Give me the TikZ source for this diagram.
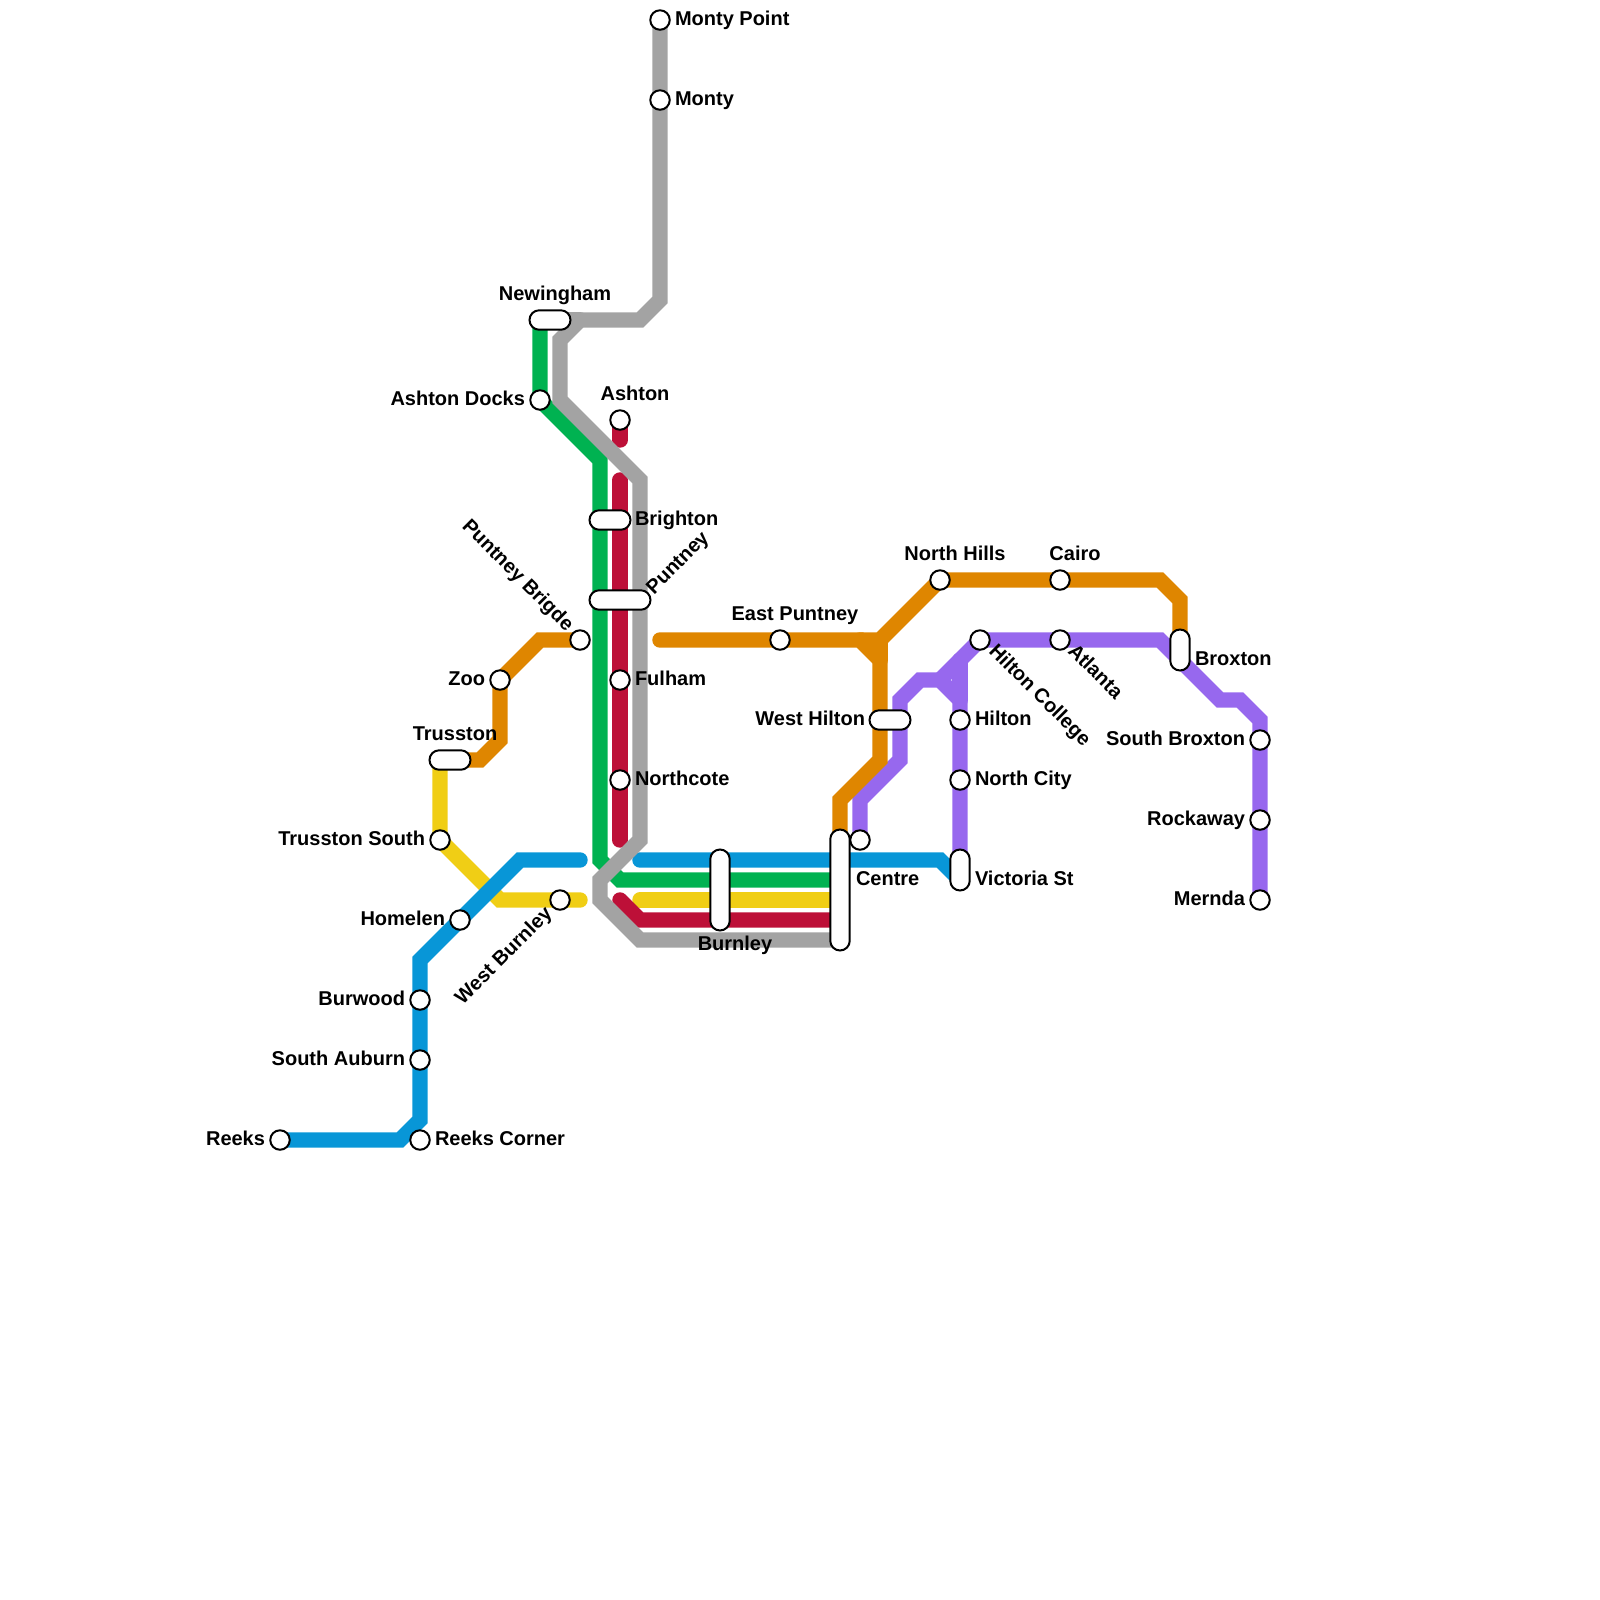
\documentclass[tikz,border=0pt]{standalone}
\usepackage{fontspec}
\setmainfont{Liberation Sans}[BoldFont={Liberation Sans Bold}]
\pgfdeclarelayer{lines}
\pgfsetlayers{lines,main}
\definecolor{cgray}{HTML}{A3A3A3}
\definecolor{cgreen}{HTML}{00B251}
\definecolor{cred}{HTML}{BD1038}
\definecolor{cblue}{HTML}{0896D7}
\definecolor{cyellow}{HTML}{F0CE15}
\definecolor{corange}{HTML}{DF8600}
\definecolor{cpurple}{HTML}{9768EE}
\tikzset{
  x=0.75pt,y=-0.75pt,
  sta/.style={circle,draw=black,fill=white,line width=1.5pt,minimum size=14.6pt,inner sep=0pt,outer sep=0pt},
  capsule/.style={rectangle,rounded corners=7.3pt,draw=black,fill=white,line width=1.5pt,inner sep=0pt,outer sep=0pt},
  caph/.style={capsule,minimum height=14.6pt,minimum width=#1*0.75pt},
  capv/.style={capsule,minimum width=14.6pt,minimum height=#1*0.75pt},
  route/.style={line width=11.6pt,line join=miter,miter limit=10,line cap=round,color=#1},
  lab/.style={font=\fontsize{15pt}{17pt}\selectfont\bfseries,inner sep=0pt,outer sep=0pt,text=black},
  lr/.style={lab,anchor=base west},
  ll/.style={lab,anchor=base east},
  lc/.style={lab,anchor=base},
}
\begin{document}
\begin{tikzpicture}
\useasboundingbox (0,0) rectangle (1600,1600);
% stations
\node[sta] (montypoint) at (660,20) {};
\node[sta] (monty) at (660,100) {};
\node[caph=41] (newingham) at (550,320) {};
\node[sta] (ashtondocks) at (540,400) {};
\node[sta] (ashton) at (620,420) {};
\node[caph=41] (brighton) at (610,520) {};
\node[caph=61] (puntney) at (620,600) {};
\node[sta] (puntneybrigde) at (580,640) {};
\node[sta] (zoo) at (500,680) {};
\node[sta] (fulham) at (620,680) {};
\node[caph=41] (trusston) at (450,760) {};
\node[sta] (northcote) at (620,780) {};
\node[sta] (trusstonsouth) at (440,840) {};
\node[sta] (westburnley) at (560,900) {};
\node[sta] (homelen) at (460,920) {};
\node[sta] (burwood) at (420,1000) {};
\node[sta] (southauburn) at (420,1060) {};
\node[sta] (reekscorner) at (420,1140) {};
\node[sta] (reeks) at (280,1140) {};
\node[capv=81] (burnley) at (720,890) {};
\node[capv=121] (centre) at (840,890) {};
\node[sta] (centreb) at (860,840) {};
\node[sta] (eastpuntney) at (780,640) {};
\node[caph=41] (westhilton) at (890,720) {};
\node[sta] (northhills) at (940,580) {};
\node[sta] (hiltoncollege) at (980,640) {};
\node[sta] (hilton) at (960,720) {};
\node[sta] (northcity) at (960,780) {};
\node[capv=41] (victoriast) at (960,870) {};
\node[sta] (cairo) at (1060,580) {};
\node[sta] (atlanta) at (1060,640) {};
\node[capv=41] (broxton) at (1180,650) {};
\node[sta] (southbroxton) at (1260,740) {};
\node[sta] (rockaway) at (1260,820) {};
\node[sta] (mernda) at (1260,900) {};
% route bends
\coordinate (g1) at (660,300); \coordinate (g2) at (640,320); \coordinate (g3) at (580,320);
\coordinate (g3a) at (560,320); \coordinate (g4) at (560,340); \coordinate (g5) at (560,400);
\coordinate (g6) at (640,480); \coordinate (g7) at (640,840); \coordinate (g8) at (600,880);
\coordinate (g9) at (600,900); \coordinate (g10) at (640,940); \coordinate (g11) at (840,940);
\coordinate (n0) at (540,320); \coordinate (n1) at (600,460); \coordinate (n2) at (600,860);
\coordinate (n3) at (620,880); \coordinate (n4) at (840,880);
\coordinate (r1) at (620,440); \coordinate (r2) at (620,480); \coordinate (r3) at (620,840);
\coordinate (r4) at (620,900); \coordinate (r5) at (640,920); \coordinate (r6) at (840,920);
\coordinate (b1) at (400,1140); \coordinate (b2) at (420,1120); \coordinate (b3) at (420,960);
\coordinate (b4) at (520,860); \coordinate (b5) at (580,860); \coordinate (b6) at (640,860);
\coordinate (b7) at (940,860); \coordinate (b8) at (960,880);
\coordinate (y1) at (440,760); \coordinate (y2) at (500,900); \coordinate (y3) at (580,900);
\coordinate (y4) at (640,900); \coordinate (y5) at (840,900);
\coordinate (o1) at (460,760); \coordinate (o2) at (480,760); \coordinate (o3) at (500,740);
\coordinate (o4) at (540,640); \coordinate (o5) at (660,640); \coordinate (o6) at (860,640);
\coordinate (o7) at (880,660); \coordinate (o8) at (880,760); \coordinate (o9) at (840,800);
\coordinate (o10) at (840,840); \coordinate (o11) at (880,640); \coordinate (o12) at (1160,580);
\coordinate (o13) at (1180,600); \coordinate (o14) at (1180,640);
\coordinate (p1) at (860,800); \coordinate (p2) at (900,760); \coordinate (p3) at (900,700);
\coordinate (p4) at (920,680); \coordinate (p5) at (940,680); \coordinate (p6) at (960,700);
\coordinate (p7) at (960,860); \coordinate (p8) at (960,660); \coordinate (p9) at (1160,640);
\coordinate (p10) at (1220,700); \coordinate (p11) at (1240,700); \coordinate (p12) at (1260,720);
% routes
\begin{pgfonlayer}{lines}
\draw[route=cpurple] (centreb.center) -- (p1) -- (p2) -- (p3) -- (p4) -- (p5) -- (p6) -- (p7);
\draw[route=cpurple] (p5) -- (hiltoncollege.center) -- (p9) -- (p10) -- (p11) -- (p12) -- (mernda.center);
\draw[route=cpurple] (p8) -- (p6);
\draw[route=corange] (trusston.center) -- (o2) -- (o3) -- (zoo.center) -- (o4) -- (puntneybrigde.center);
\draw[route=corange] (o5) -- (o6) -- (o7) -- (o8) -- (o9) -- (o10);
\draw[route=corange] (o6) -- (o11) -- (northhills.center) -- (o12) -- (o13) -- (o14);
\draw[route=corange] (o11) -- (o7);
\draw[route=cyellow] (y1) -- (trusstonsouth.center) -- (y2) -- (y3);
\draw[route=cyellow] (y4) -- (y5);
\draw[route=cgreen] (n0) -- (ashtondocks.center) -- (n1) -- (n2) -- (n3) -- (n4);
\draw[route=cred] (ashton.center) -- (r1);
\draw[route=cred] (r2) -- (r3);
\draw[route=cred] (r4) -- (r5) -- (r6);
\draw[route=cblue] (reeks.center) -- (b1) -- (b2) -- (b3) -- (b4) -- (b5);
\draw[route=cblue] (b6) -- (b7) -- (b8);
\draw[route=cgray] (montypoint.center) -- (g1) -- (g2) -- (g3) -- (g4) -- (g5) -- (g6) -- (g7) -- (g8) -- (g9) -- (g10) -- (g11);
\draw[route=cgray] (g3a) -- (g3);
\end{pgfonlayer}
% labels
\node[lr] (t1) at (675,25) {Monty Point};
\node[lr] (t2) at (675,105) {Monty};
\node[lc] (t3) at (555,300) {Newingham};
\node[ll] (t4) at (525,405) {Ashton Docks};
\node[lc] (t5) at (635,400) {Ashton};
\node[lr] (t6) at (635,525) {Brighton};
\node[lab,anchor=base west,rotate=45] (t7) at (654,595) {Puntney};
\node[lab,anchor=base east,rotate=-45] (t8) at (566,632) {Puntney Brigde};
\node[ll] (t9) at (485,685) {Zoo};
\node[lr] (t10) at (635,685) {Fulham};
\node[lc] (t11) at (455,740) {Trusston};
\node[lr] (t12) at (635,785) {Northcote};
\node[ll] (t13) at (425,845) {Trusston South};
\node[lab,anchor=base east,rotate=45] (t14) at (553,915) {West Burnley};
\node[ll] (t15) at (445,925) {Homelen};
\node[ll] (t16) at (405,1005) {Burwood};
\node[ll] (t17) at (405,1065) {South Auburn};
\node[ll] (t18) at (265,1145) {Reeks};
\node[lr] (t19) at (435,1145) {Reeks Corner};
\node[lc] (t20) at (735,950) {Burnley};
\node[lr] (t21) at (856,885) {Centre};
\node[lc] (t22) at (795,620) {East Puntney};
\node[ll] (t23) at (865,725) {West Hilton};
\node[lc] (t24) at (955,560) {North Hills};
\node[lab,anchor=base west,rotate=-45] (t25) at (988,652) {Hilton College};
\node[lr] (t26) at (975,725) {Hilton};
\node[lr] (t27) at (975,785) {North City};
\node[lr] (t28) at (975,885) {Victoria St};
\node[lc] (t29) at (1075,560) {Cairo};
\node[lab,anchor=base west,rotate=-45] (t30) at (1067,652) {Atlanta};
\node[lr] (t31) at (1195,665) {Broxton};
\node[ll] (t32) at (1245,745) {South Broxton};
\node[ll] (t33) at (1245,825) {Rockaway};
\node[ll] (t34) at (1245,905) {Mernda};
\end{tikzpicture}
\end{document}
